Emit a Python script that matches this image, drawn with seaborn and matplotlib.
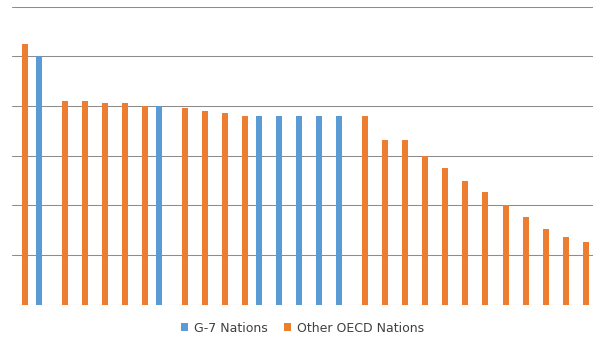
import matplotlib
matplotlib.use("Agg")
import matplotlib.pyplot as plt
import seaborn as sns
import pandas as pd
import numpy as np

# One slot per country, ordered by value; each country belongs to one group
countries = [f"C{i + 1}" for i in range(29)]
g7_values = [0, 25.0, 0, 0, 0, 0, 0, 20.0, 0, 0, 0, 0,
             19.0, 19.0, 19.0, 19.0, 19.0,
             0, 0, 0, 0, 0, 0, 0, 0, 0, 0, 0, 0]
other_values = [26.3, 0, 20.5, 20.5, 20.3, 20.3, 20.0, 0, 19.8, 19.5, 19.3, 19.0,
                0, 0, 0, 0, 0,
                19.0, 16.6, 16.6, 15.0, 13.75, 12.5, 11.4, 10.0, 8.8, 7.6, 6.8, 6.3]
series_names = ["G-7 Nations", "Other OECD Nations"]
colors = ["#5B9BD5", "#ED7D31"]

df = pd.DataFrame({
    "country": countries * 2,
    "value": g7_values + other_values,
    "group": [series_names[0]] * len(countries) + [series_names[1]] * len(countries),
})

sns.set_style("white")
fig = plt.figure(figsize=(6.05, 3.40), dpi=100)
ax = fig.add_axes([12 / 605, 1 - 304.8 / 340, 580.6 / 605, 298.0 / 340])

sns.barplot(data=df, x="country", y="value", hue="group", hue_order=series_names,
            palette=colors, width=0.6, saturation=1, linewidth=0, ax=ax,
            legend=True, errorbar=None)

ax.set_ylim(0, 30)
ax.set_xlim(-0.5, len(countries) - 0.5)
ax.set_yticks(np.arange(0, 31, 5))
ax.yaxis.grid(True, color="#8C8C8C", linewidth=0.75)
ax.set_axisbelow(True)
ax.tick_params(left=False, bottom=False, labelleft=False, labelbottom=False)
ax.set_xlabel("")
ax.set_ylabel("")
for s in ax.spines.values():
    s.set_visible(False)

handles, labels = ax.get_legend_handles_labels()
ax.get_legend().remove()
fig.legend(handles, labels, loc="center", bbox_to_anchor=(0.5, 1 - 328 / 340),
           ncol=2, frameon=False, fontsize=9, handlelength=0.55, handleheight=0.55,
           handletextpad=0.5, columnspacing=1.3, labelcolor="#404040")

fig.savefig("out.png", dpi=100)
